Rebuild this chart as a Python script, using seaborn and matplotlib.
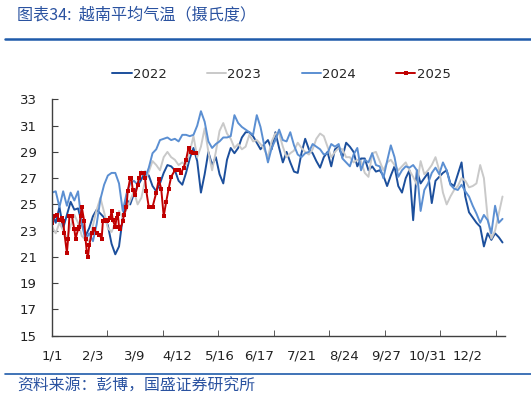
import numpy as np
import pandas as pd
import seaborn as sns
from matplotlib import pyplot as plt
from matplotlib.lines import Line2D

# day-of-year grid (every 3 days) for the full-year series
days_full = list(range(0, 364, 3))

temp_2022 = [24.3, 23.6, 24.8, 23.2, 24.2, 25.2, 24.6, 24.7, 23.6, 22.6,
             23.2, 24.1, 24.6, 24.3, 24.0, 23.4, 22.0, 21.2, 21.8, 24.0,
             25.4, 25.0, 25.8, 26.4, 26.9, 27.5, 27.2, 26.4, 26.0, 26.6,
             27.4, 28.0, 27.9, 27.6, 26.8, 26.5, 27.4, 28.5, 29.3, 28.3,
             25.9, 27.3, 29.0, 28.0, 28.6, 27.3, 26.6, 28.4, 29.3, 28.9,
             29.3, 30.1, 30.5, 30.5, 30.2, 29.7, 29.2, 29.6, 29.9, 29.2,
             30.5, 29.3, 28.2, 29.0, 28.2, 27.5, 27.4, 28.9, 30.0, 29.2,
             28.9, 28.3, 27.8, 28.6, 29.0, 27.9, 29.2, 29.4, 28.6, 29.7,
             29.4, 29.0, 27.9, 28.5, 28.5, 27.6, 27.9, 27.5, 27.6, 27.2,
             26.4, 27.2, 27.9, 26.4, 25.9, 27.0, 27.6, 23.8, 27.6, 26.6,
             27.0, 27.4, 25.1, 26.8, 27.1, 27.4, 27.6, 26.6, 26.4, 27.3,
             28.2, 25.6, 24.4, 24.0, 23.6, 23.3, 21.8, 22.8, 22.3, 22.8,
             22.5, 22.1]

temp_2023 = [23.3, 22.8, 23.6, 23.0, 22.4, 23.4, 24.2, 23.6, 22.6, 22.3,
             22.2, 23.4, 24.6, 25.5, 24.4, 23.2, 22.9, 23.6, 24.5, 24.0,
             24.6, 25.3, 26.0, 25.0, 25.5, 26.8, 27.5, 28.3, 28.0, 27.6,
             28.6, 29.0, 28.6, 28.4, 28.0, 28.2, 28.0, 29.0, 30.2, 28.6,
             29.4, 30.8, 29.0, 27.6, 29.0, 30.6, 31.2, 30.4, 30.0, 29.3,
             29.6, 29.2, 29.4, 30.3, 29.8, 29.9, 29.6, 29.2, 28.6, 29.8,
             30.4, 30.4, 29.4, 28.6, 28.9, 29.1, 29.7, 29.3, 29.0, 28.8,
             29.2, 30.0, 30.4, 30.2, 29.4, 28.6, 29.0, 29.3, 29.2, 28.6,
             28.6, 28.2, 28.4, 28.3, 27.4, 27.1, 28.9, 29.0, 28.3, 27.6,
             28.2, 28.4, 28.0, 27.6, 27.9, 28.2, 27.6, 27.1, 26.5, 28.3,
             27.3, 27.6, 28.0, 28.6, 27.6, 25.9, 25.0, 25.6, 26.1, 26.4,
             27.0, 26.8, 26.3, 26.4, 26.6, 28.0, 27.0, 24.0, 22.4, 23.0,
             24.3, 25.6]

temp_2024 = [25.9, 26.0, 24.8, 26.0, 24.9, 25.9, 25.3, 26.0, 23.5, 22.3,
             22.8, 22.2, 23.5, 25.4, 26.5, 27.2, 27.4, 27.4, 26.6, 24.5,
             25.8, 26.6, 26.8, 26.5, 27.5, 27.0, 27.8, 28.9, 29.2, 29.9,
             30.0, 30.1, 29.9, 30.0, 29.8, 30.3, 30.3, 30.2, 30.3, 31.0,
             32.1, 31.3, 29.8, 29.3, 29.6, 29.8, 30.1, 30.1, 30.2, 31.8,
             31.2, 30.9, 30.7, 30.5, 30.3, 31.8, 30.9, 29.5, 28.2, 29.3,
             29.9, 30.7, 29.9, 29.8, 30.5, 29.5, 28.8, 28.6, 28.9, 29.0,
             29.6, 29.4, 29.2, 28.8, 28.9, 29.6, 29.4, 29.6, 28.5, 28.2,
             27.9, 28.8, 29.3, 27.6, 28.4, 28.2, 28.9, 28.0, 27.9, 27.0,
             28.3, 29.5, 28.6, 27.1, 27.6, 27.9, 27.8, 28.0, 27.6, 24.5,
             26.1, 26.6, 27.4, 27.8, 27.3, 28.2, 27.6, 26.5, 26.2, 26.1,
             26.5, 26.0, 25.6, 24.9, 24.3, 23.6, 24.2, 23.8, 22.8, 24.9,
             23.6, 23.9]

days_2025 = [0, 2, 4, 6, 8, 9, 10, 12, 13, 14,
             16, 18, 19, 21, 22, 23, 24, 26, 27, 28,
             29, 30, 32, 34, 36, 38, 40, 41, 43, 44,
             45, 47, 48, 49, 51, 52, 53, 54, 55, 57,
             58, 60, 61, 63, 64, 65, 67, 69, 70, 72,
             74, 75, 76, 78, 79, 81, 84, 86, 88, 90,
             92, 94, 96, 99, 102, 104, 106, 108, 110, 112,
             114, 116]
temp_2025 = [23.6, 24.1, 24.2, 23.8, 24.0, 23.7, 22.8, 21.3, 22.4, 24.1,
             24.1, 23.1, 22.4, 23.1, 23.3, 24.1, 24.8, 23.7, 22.4, 21.4,
             21.0, 21.9, 22.8, 23.1, 22.8, 22.7, 22.4, 23.7, 23.8, 23.7,
             23.8, 24.0, 24.5, 23.8, 23.3, 24.0, 24.3, 23.3, 23.1, 23.7,
             24.2, 24.8, 26.0, 27.0, 27.0, 26.1, 25.7, 26.5, 27.0, 27.4,
             27.4, 27.0, 26.0, 24.8, 24.8, 24.8, 25.9, 26.9, 26.2, 24.1,
             25.2, 26.2, 27.1, 27.6, 27.6, 27.4, 27.8, 28.4, 29.3, 29.0,
             28.9, 28.9]

tick_dates = ['1/1', '2/3', '3/9', '4/12', '5/16', '6/17', '7/21', '8/24', '9/27', '10/31', '12/2']

colors = {'2022': '#1C4F9C', '2023': '#C9C9C9', '2024': '#5B8FD2', '2025': '#C00000'}
title_blue = '#2A52A0'

sns.set_style('ticks')
plt.rcParams['font.family'] = ['DejaVu Sans', 'Noto Sans CJK SC']

fig = plt.figure(figsize=(5.31, 3.99), dpi=100)
ax = fig.add_axes([52 / 531, 63.3 / 399, 453 / 531, 236.3 / 399])

series = [('2022', days_full, temp_2022), ('2023', days_full, temp_2023), ('2024', days_full, temp_2024)]
for year, d, t in series:
    sns.lineplot(x=d, y=t, ax=ax, color=colors[year], lw=1.4, label=year)
sns.lineplot(x=days_2025, y=temp_2025, ax=ax, color=colors['2025'], lw=1.4, marker='s',
             markersize=3.4, markeredgewidth=0, label='2025')

ax.set_xlim(0, 365)
ax.set_ylim(15, 33)
ax.set_yticks(np.arange(15, 34, 2))
tick_pos = [pd.Timestamp('2023/' + s).dayofyear - 1 for s in tick_dates]
ax.set_xticks(tick_pos)
ax.set_xticklabels(tick_dates)
ax.set_xticks(np.arange(0, 365, 44.7), minor=True)
ax.tick_params(axis='x', which='major', length=0, pad=10, labelsize=9.5, colors='#222222')
ax.tick_params(axis='x', which='minor', length=4, direction='in', color='#404040')
ax.tick_params(axis='y', length=4, direction='in', pad=11, labelsize=9.5, colors='#222222')
ax.tick_params(axis='y', color='#404040')
ax.set_xlabel('')
ax.set_ylabel('')
sns.despine(ax=ax)
for s in ['left', 'bottom']:
    ax.spines[s].set_color('#404040')
    ax.spines[s].set_linewidth(1.0)

ax.legend(loc='center', bbox_to_anchor=(0.53, 1 - 74 / 399), bbox_transform=fig.transFigure,
          ncol=4, frameon=False, fontsize=9.5, handlelength=1.45, handletextpad=0.1,
          columnspacing=3.05)

cjk = ['Noto Sans CJK SC', 'DejaVu Sans']
fig.text(17 / 531, 1 - 15 / 399, '图表34:  越南平均气温（摄氏度）', family=cjk, fontsize=11.6,
         color=title_blue, style='italic', va='center', ha='left')
fig.add_artist(Line2D([5 / 531, 1], [1 - 38.5 / 399] * 2, transform=fig.transFigure,
                      color='#1F5BAA', lw=1.8))
fig.add_artist(Line2D([5 / 531, 1], [1 - 374 / 399] * 2, transform=fig.transFigure,
                      color='#1F5BAA', lw=1.2))
fig.text(17 / 531, 1 - 386 / 399, '资料来源：彭博，国盛证券研究所', family=cjk, fontsize=11.4,
         color=title_blue, style='italic', va='center', ha='left')

fig.savefig('out.png', dpi=100)
